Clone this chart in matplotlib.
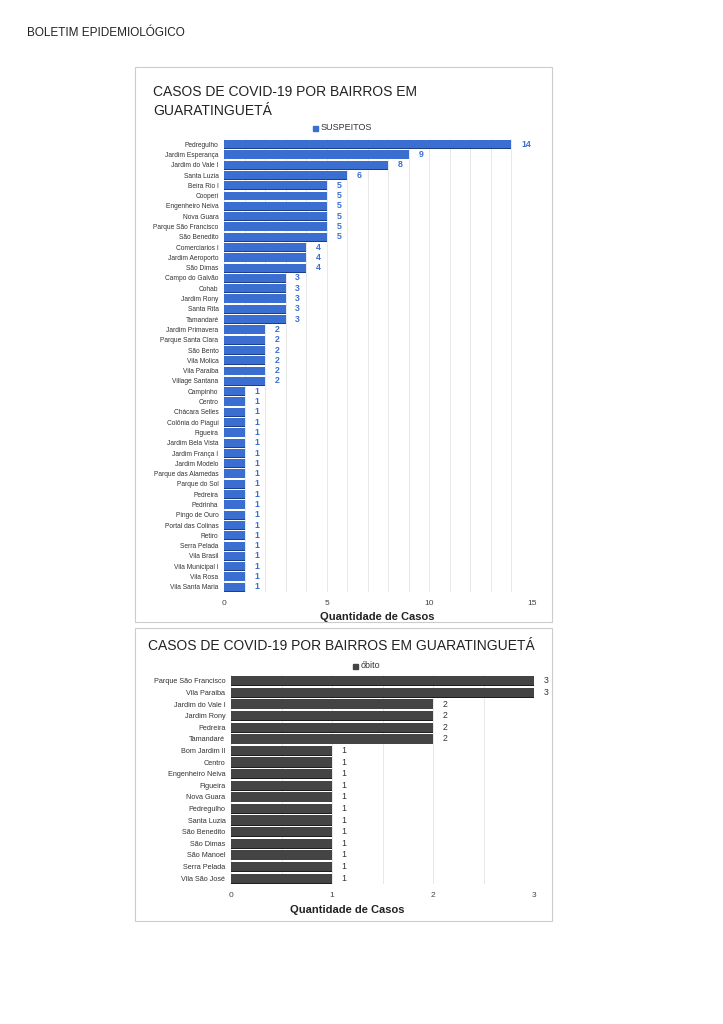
import matplotlib.pyplot as plt
from matplotlib.patches import Rectangle

plt.rcParams['font.family'] = ['Liberation Sans', 'DejaVu Sans']

# Dados - suspeitos por bairro
bairros_susp = ['Pedregulho', 'Jardim Esperança', 'Jardim do Vale I', 'Santa Luzia',
                'Beira Rio I', 'Cooperi', 'Engenheiro Neiva', 'Nova Guara',
                'Parque São Francisco', 'São Benedito', 'Comerciarios I',
                'Jardim Aeroporto', 'São Dimas', 'Campo do Galvão', 'Cohab',
                'Jardim Rony', 'Santa Rita', 'Tamandaré', 'Jardim Primavera',
                'Parque Santa Clara', 'São Bento', 'Vila Molica', 'Vila Paraiba',
                'Village Santana', 'Campinho', 'Centro', 'Chácara Selles',
                'Colônia do Piagui', 'Figueira', 'Jardim Bela Vista', 'Jardim França I',
                'Jardim Modelo', 'Parque das Alamedas', 'Parque do Sol', 'Pedreira',
                'Pedrinha', 'Pingo de Ouro', 'Portal das Colinas', 'Retiro',
                'Serra Pelada', 'Vila Brasil', 'Vila Municipal I', 'Vila Rosa',
                'Vila Santa Maria']
suspeitos = [14, 9, 8, 6, 5, 5, 5, 5, 5, 5, 4, 4, 4, 3, 3, 3, 3, 3,
             2, 2, 2, 2, 2, 2, 1, 1, 1, 1, 1, 1, 1, 1, 1, 1, 1, 1, 1, 1, 1, 1, 1, 1, 1, 1]

# Dados - óbitos por bairro
bairros_obito = ['Parque São Francisco', 'Vila Paraiba', 'Jardim do Vale I', 'Jardim Rony',
                 'Pedreira', 'Tamandaré', 'Bom Jardim II', 'Centro', 'Engenheiro Neiva',
                 'Figueira', 'Nova Guara', 'Pedregulho', 'Santa Luzia', 'São Benedito',
                 'São Dimas', 'São Manoel', 'Serra Pelada', 'Vila São José']
obitos = [3, 3, 2, 2, 2, 2, 1, 1, 1, 1, 1, 1, 1, 1, 1, 1, 1, 1]

W, H = 723, 1024
fig = plt.figure(figsize=(W / 100, H / 100), dpi=100)


def fx(px):
    return px / W


def fy(py):
    return 1 - py / H


fig.text(fx(27), fy(33), 'BOLETIM EPIDEMIOLÓGICO', fontsize=8.5, color='#222222',
         va='center', ha='left')

# caixas dos gráficos
for (x0, y0, x1, y1) in [(135, 67, 552, 622), (135, 628, 552, 921)]:
    fig.patches.append(Rectangle((fx(x0), fy(y1)), fx(x1) - fx(x0), fy(y0) - fy(y1),
                                 transform=fig.transFigure, fill=False,
                                 edgecolor='#cccccc', linewidth=0.8))


def draw_chart(ax, labels, values, color, shadow, lblcolor, lblweight, xmax, gridstep):
    n = len(labels)
    pos = list(range(n))
    ax.barh([p + 0.07 for p in pos], values, height=0.8, color=shadow, zorder=2)
    ax.barh(pos, values, height=0.8, color=color, zorder=3)
    for p, v in zip(pos, values):
        ax.annotate(str(v), (v, p), xytext=(7, 0), textcoords='offset points',
                    va='center', ha='left', fontsize=6.3, color=lblcolor,
                    fontweight=lblweight)
    ax.set_ylim(n - 0.5, -0.5)
    ax.set_xlim(0, xmax)
    ax.set_yticks(pos)
    ax.set_yticklabels(labels, fontsize=4.8, color='#333333')
    g = 0
    while g <= xmax + 1e-9:
        ax.axvline(g, color='#e4e4e4', linewidth=0.6, zorder=1)
        g += gridstep
    for s in ax.spines.values():
        s.set_visible(False)
    ax.tick_params(axis='both', length=0)
    ax.tick_params(axis='y', pad=4)
    ax.tick_params(axis='x', labelsize=6, colors='#444444', pad=6)


# gráfico 1 - suspeitos
ax1 = fig.add_axes([fx(224), fy(592), fx(532) - fx(224), fy(139) - fy(592)])
draw_chart(ax1, bairros_susp, suspeitos, '#3a6fd1', '#1e3f86', '#3a6fd1', 'bold', 15, 1)
ax1.set_xticks([0, 5, 10, 15])
fig.text(fx(153), fy(92), 'CASOS DE COVID-19 POR BAIRROS EM', fontsize=10,
         color='#222222', va='center', ha='left')
fig.text(fx(153), fy(111), 'GUARATINGUETÁ', fontsize=10, color='#222222',
         va='center', ha='left')
fig.patches.append(Rectangle((fx(313), fy(130.5)), fx(5) - fx(0), fy(0) - fy(5),
                             transform=fig.transFigure, color='#3a6fd1'))
fig.text(fx(321), fy(128), 'SUSPEITOS', fontsize=6.5, color='#333333',
         va='center', ha='left')
fig.text(fx(377), fy(617), 'Quantidade de Casos', fontsize=8, fontweight='bold',
         color='#222222', va='center', ha='center')

# gráfico 2 - óbitos
ax2 = fig.add_axes([fx(231), fy(884), fx(534) - fx(231), fy(675) - fy(884)])
draw_chart(ax2, bairros_obito, obitos, '#444444', '#1e1e1e', '#333333', 'normal', 3, 0.5)
ax2.set_xticks([0, 1, 2, 3])
ax2.tick_params(axis='y', labelsize=5.2)
fig.text(fx(148), fy(646), 'CASOS DE COVID-19 POR BAIRROS EM GUARATINGUETÁ',
         fontsize=10, color='#222222', va='center', ha='left')
fig.patches.append(Rectangle((fx(353), fy(668.5)), fx(5) - fx(0), fy(0) - fy(5),
                             transform=fig.transFigure, color='#444444'))
fig.text(fx(361), fy(666), 'óbito', fontsize=6.5, color='#333333',
         va='center', ha='left')
fig.text(fx(347), fy(910), 'Quantidade de Casos', fontsize=8, fontweight='bold',
         color='#222222', va='center', ha='center')

fig.savefig('out.png', dpi=100)
